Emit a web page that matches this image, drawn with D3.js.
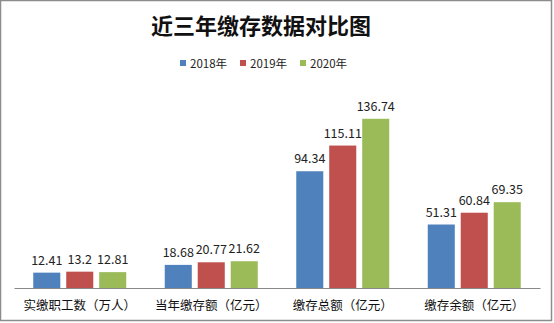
<!DOCTYPE html>
<html><head><meta charset="utf-8">
<script src="https://cdn.jsdelivr.net/npm/d3@7"></script>
<style>html,body{margin:0;padding:0;background:#fff}</style>
</head><body>
<script>
const categories = ["实缴职工数（万人）", "当年缴存额（亿元）", "缴存总额（亿元）", "缴存余额（亿元）"];
const seriesNames = ["2018年", "2019年", "2020年"];
const values2018 = [12.41, 18.68, 94.34, 51.31];
const values2019 = [13.2, 20.77, 115.11, 60.84];
const values2020 = [12.81, 21.62, 136.74, 69.35];
const labels2018 = ["12.41", "18.68", "94.34", "51.31"];
const labels2019 = ["13.2", "20.77", "115.11", "60.84"];
const labels2020 = ["12.81", "21.62", "136.74", "69.35"];
const colors = ["#4F81BD", "#C0504D", "#9BBB59"];

const W = 554, H = 323;
const svg = d3.select("body").append("svg").attr("width", W).attr("height", H);
const font = "'Noto Sans CJK SC', 'Liberation Sans', sans-serif";

svg.append("rect").attr("x", 0.5).attr("y", 0.5).attr("width", 551).attr("height", 320)
  .attr("fill", "#fff").attr("stroke", "#8c8c8c").attr("stroke-width", 1.5);

svg.append("text").attr("x", 261).attr("y", 34).attr("text-anchor", "middle")
  .attr("font-family", "'Noto Sans CJK SC', serif").attr("font-weight", "bold")
  .attr("font-size", 22).attr("fill", "#111").text("近三年缴存数据对比图");

// legend
const legendX = [180, 240, 300];
seriesNames.forEach((n, i) => {
  svg.append("rect").attr("x", legendX[i]).attr("y", 60).attr("width", 6).attr("height", 6).attr("fill", colors[i]);
  svg.append("text").attr("x", legendX[i] + 10).attr("y", 67.5).attr("font-family", font)
    .attr("font-size", 11.5).attr("fill", "#222").text(n);
});

const series = [values2018, values2019, values2020];
const seriesLabels = [labels2018, labels2019, labels2020];
const x0 = d3.scaleBand().domain(categories).range([14, 540]).paddingInner(0).paddingOuter(0);
const x1 = d3.scaleBand().domain(seriesNames).range([0, 93]).paddingInner(0.18).paddingOuter(0);
const y = d3.scaleLinear().domain([0, 160]).range([288, 90]);

categories.forEach((c, ci) => {
  const gx = x0(c) + x0.bandwidth() / 2 - 93 / 2;
  seriesNames.forEach((s, si) => {
    const v = series[si][ci];
    svg.append("rect").attr("x", gx + x1(s)).attr("y", y(v))
      .attr("width", x1.bandwidth()).attr("height", y(0) - y(v)).attr("fill", colors[si]);
    svg.append("text").attr("x", gx + x1(s) + x1.bandwidth() / 2).attr("y", y(v) - 8)
      .attr("text-anchor", "middle").attr("font-family", font).attr("font-size", 12.5)
      .attr("fill", "#222").text(seriesLabels[si][ci]);
  });
});

const xAxis = svg.append("g").attr("transform", "translate(0,288)")
  .call(d3.axisBottom(x0).tickSize(0).tickPadding(13));
xAxis.select(".domain").attr("stroke", "#888").attr("stroke-width", 1);
xAxis.selectAll("text").attr("font-family", font).attr("font-size", 12.5).attr("fill", "#111");
</script>
</body></html>
